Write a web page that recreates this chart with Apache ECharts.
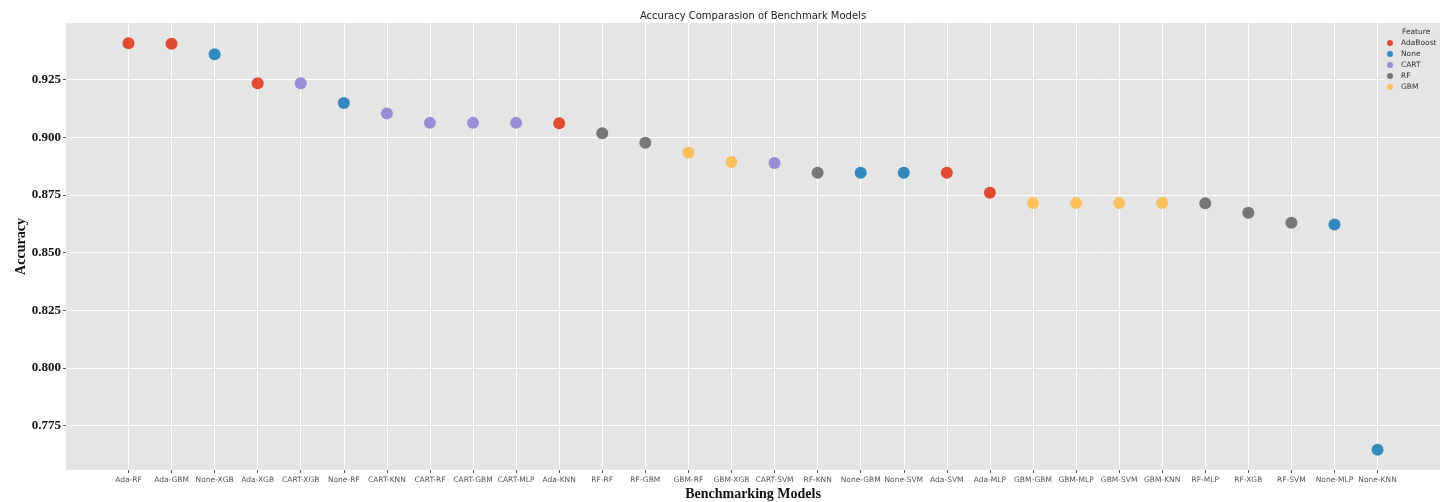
<!DOCTYPE html>
<html>
<head>
<meta charset="utf-8">
<title>Accuracy Comparasion of Benchmark Models</title>
<script src="https://cdn.jsdelivr.net/npm/echarts@6/dist/echarts.min.js"></script>
<style>
  html, body { margin: 0; padding: 0; background: #fff; }
  #chart { width: 1448px; height: 502px; }
</style>
</head>
<body>
<div id="chart"></div>
<script>
// benchmark models, sorted by accuracy
var models = ['Ada-RF', 'Ada-GBM', 'None-XGB', 'Ada-XGB', 'CART-XGB', 'None-RF', 'CART-KNN', 'CART-RF',
  'CART-GBM', 'CART-MLP', 'Ada-KNN', 'RF-RF', 'RF-GBM', 'GBM-RF', 'GBM-XGB', 'CART-SVM', 'RF-KNN',
  'None-GBM', 'None-SVM', 'Ada-SVM', 'Ada-MLP', 'GBM-GBM', 'GBM-MLP', 'GBM-SVM', 'GBM-KNN', 'RF-MLP',
  'RF-XGB', 'RF-SVM', 'None-MLP', 'None-KNN'];
var accuracy = [0.9407, 0.9405, 0.9360, 0.9234, 0.9234, 0.9148, 0.9103, 0.9062,
  0.9062, 0.9062, 0.9060, 0.9017, 0.8976, 0.8932, 0.8892, 0.8888, 0.8846,
  0.8846, 0.8846, 0.8846, 0.8759, 0.8715, 0.8715, 0.8715, 0.8715, 0.8714,
  0.8672, 0.8629, 0.8621, 0.7645];
var featureOf = ['AdaBoost', 'AdaBoost', 'None', 'AdaBoost', 'CART', 'None', 'CART', 'CART',
  'CART', 'CART', 'AdaBoost', 'RF', 'RF', 'GBM', 'GBM', 'CART', 'RF',
  'None', 'None', 'AdaBoost', 'AdaBoost', 'GBM', 'GBM', 'GBM', 'GBM', 'RF',
  'RF', 'RF', 'None', 'None'];
var features = ['AdaBoost', 'None', 'CART', 'RF', 'GBM'];
var featureColors = ['#E24A33', '#348ABD', '#988ED5', '#777777', '#FBC15E'];
var yTicks = [0.775, 0.800, 0.825, 0.850, 0.875, 0.900, 0.925];

var xTicks = models.map(function (m, i) { return i; });

var chart = echarts.init(document.getElementById('chart'));

var series = features.map(function (f, k) {
  var pts = [];
  for (var i = 0; i < models.length; i++) {
    if (featureOf[i] === f) pts.push([i, accuracy[i]]);
  }
  return {
    name: f,
    type: 'scatter',
    symbolSize: 12,
    itemStyle: { color: featureColors[k], opacity: 1 },
    data: pts
  };
});

chart.setOption({
  animation: false,
  title: [{
    text: 'Accuracy Comparasion of Benchmark Models',
    left: 753,
    textAlign: 'center',
    top: 11,
    padding: 0,
    textStyle: { fontFamily: 'DejaVu Sans', fontSize: 10, fontWeight: 'normal', color: '#222' }
  }, {
    text: 'Feature',
    left: 1402,
    top: 28,
    padding: 0,
    z: 10,
    textStyle: { fontFamily: 'DejaVu Sans', fontSize: 7.5, fontWeight: 'normal', color: '#333' }
  }],
  legend: {
    data: features,
    orient: 'vertical',
    left: 1385,
    top: 25,
    itemWidth: 6,
    itemHeight: 6,
    itemGap: 3,
    icon: 'circle',
    padding: [14, 3, 5, 2],
    backgroundColor: '#E5E5E5',
    textStyle: { fontFamily: 'DejaVu Sans', fontSize: 7.5, color: '#333', padding: [0, 0, 0, 3] }
  },
  grid: {
    left: 66,
    right: 8,
    top: 23,
    bottom: 32,
    outerBoundsMode: 'none',
    show: true,
    backgroundColor: '#E5E5E5',
    borderWidth: 0
  },
  xAxis: {
    type: 'value',
    min: -1.45,
    max: 30.45,
    name: 'Benchmarking Models',
    nameLocation: 'middle',
    nameGap: 17,
    nameMoveOverlap: false,
    nameTextStyle: { fontFamily: 'Liberation Serif', fontWeight: 'bold', fontSize: 14, color: '#111' },
    axisLine: { show: false, onZero: false },
    axisTick: { show: true, length: 3, customValues: xTicks, lineStyle: { color: '#555' } },
    axisLabel: {
      customValues: xTicks,
      margin: 6,
      fontFamily: 'DejaVu Sans',
      fontSize: 7.5,
      color: '#555',
      formatter: function (v) { return models[Math.round(v)]; }
    },
    splitLine: { show: true, lineStyle: { color: '#ffffff', width: 1 } }
  },
  yAxis: {
    type: 'value',
    min: 0.7557,
    max: 0.9495,
    name: 'Accuracy',
    nameLocation: 'middle',
    nameGap: 38,
    nameMoveOverlap: false,
    nameTextStyle: { fontFamily: 'Liberation Serif', fontWeight: 'bold', fontSize: 14, color: '#111' },
    axisLine: { show: false, onZero: false },
    axisTick: { show: true, length: 3, customValues: yTicks, lineStyle: { color: '#555' } },
    axisLabel: {
      customValues: yTicks,
      margin: 5,
      fontFamily: 'Liberation Serif',
      fontWeight: 'bold',
      fontSize: 13,
      color: '#111',
      formatter: function (v) { return v.toFixed(3); }
    },
    splitLine: { show: true, lineStyle: { color: '#ffffff', width: 1 } }
  },
  series: series
});
</script>
</body>
</html>
